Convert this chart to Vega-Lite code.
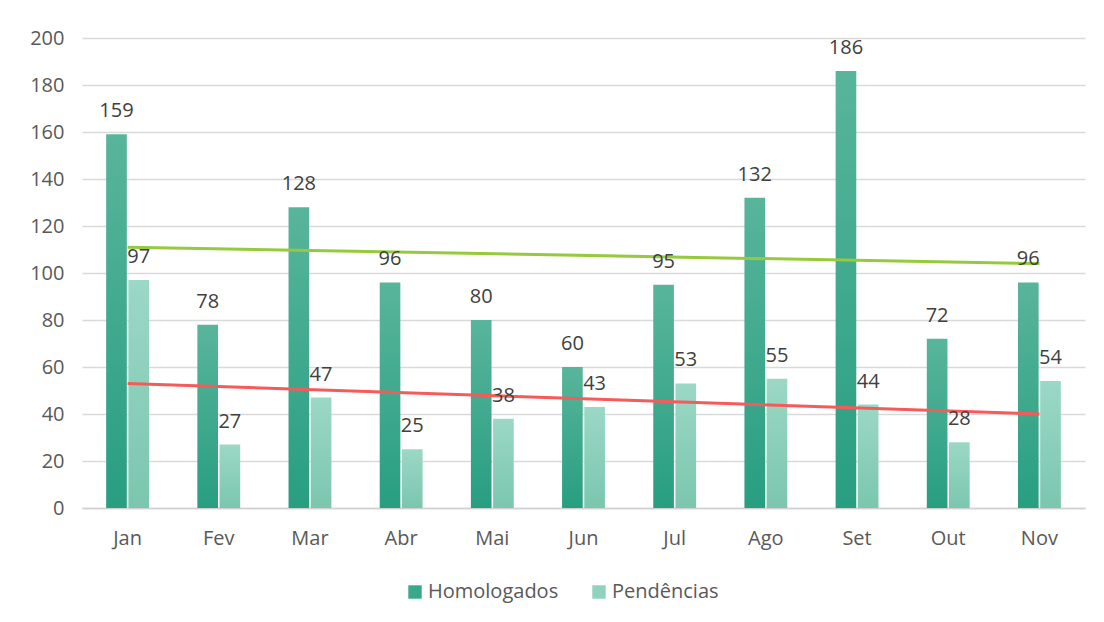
{
  "$schema": "https://vega.github.io/schema/vega-lite/v6.json",
  "width": 1003,
  "height": 470,
  "autosize": {"type": "none"},
  "padding": {"left": 82, "top": 38, "right": 19, "bottom": 114},
  "background": "#ffffff",
  "datasets": {
    "bars": [
      {"month": "Jan", "series": "Homologados", "value": 159},
      {"month": "Fev", "series": "Homologados", "value": 78},
      {"month": "Mar", "series": "Homologados", "value": 128},
      {"month": "Abr", "series": "Homologados", "value": 96},
      {"month": "Mai", "series": "Homologados", "value": 80},
      {"month": "Jun", "series": "Homologados", "value": 60},
      {"month": "Jul", "series": "Homologados", "value": 95},
      {"month": "Ago", "series": "Homologados", "value": 132},
      {"month": "Set", "series": "Homologados", "value": 186},
      {"month": "Out", "series": "Homologados", "value": 72},
      {"month": "Nov", "series": "Homologados", "value": 96},
      {"month": "Jan", "series": "Pendências", "value": 97},
      {"month": "Fev", "series": "Pendências", "value": 27},
      {"month": "Mar", "series": "Pendências", "value": 47},
      {"month": "Abr", "series": "Pendências", "value": 25},
      {"month": "Mai", "series": "Pendências", "value": 38},
      {"month": "Jun", "series": "Pendências", "value": 43},
      {"month": "Jul", "series": "Pendências", "value": 53},
      {"month": "Ago", "series": "Pendências", "value": 55},
      {"month": "Set", "series": "Pendências", "value": 44},
      {"month": "Out", "series": "Pendências", "value": 28},
      {"month": "Nov", "series": "Pendências", "value": 54}
    ],
    "trend": [
      {"month": "Jan", "series": "Homologados", "value": 111},
      {"month": "Nov", "series": "Homologados", "value": 104},
      {"month": "Jan", "series": "Pendências", "value": 53},
      {"month": "Nov", "series": "Pendências", "value": 40}
    ]
  },
  "encoding": {
    "x": {
      "field": "month",
      "type": "nominal",
      "sort": ["Jan", "Fev", "Mar", "Abr", "Mai", "Jun", "Jul", "Ago", "Set", "Out", "Nov"],
      "scale": {"paddingInner": 0.53, "paddingOuter": 0.265},
      "axis": {
        "title": null,
        "labelAngle": 0,
        "labelFontSize": 20,
        "labelColor": "#595959",
        "labelFont": "Open Sans",
        "labelPadding": 20,
        "ticks": false,
        "domain": true,
        "domainColor": "#d0d0d0",
        "domainWidth": 1.5,
        "grid": false
      }
    },
    "y": {
      "field": "value",
      "type": "quantitative",
      "scale": {"domain": [0, 200], "nice": false},
      "axis": {
        "title": null,
        "values": [0, 20, 40, 60, 80, 100, 120, 140, 160, 180, 200],
        "labelFontSize": 20,
        "labelColor": "#595959",
        "labelFont": "Open Sans",
        "labelPadding": 18,
        "ticks": false,
        "domain": false,
        "grid": true,
        "gridColor": "#d9d9d9",
        "gridWidth": 1.5
      }
    }
  },
  "layer": [
    {
      "data": {"name": "bars"},
      "transform": [{"filter": "datum.series == 'Homologados'"}],
      "mark": {
        "type": "bar",
        "fill": {
          "gradient": "linear", "x1": 0, "y1": 0, "x2": 0, "y2": 1,
          "stops": [{"offset": 0, "color": "#58b59b"}, {"offset": 1, "color": "#289e81"}]
        }
      },
      "encoding": {
        "xOffset": {"field": "series", "type": "nominal", "scale": {"domain": ["Homologados", "Pendências"], "paddingInner": 0.07, "paddingOuter": 0}}
      }
    },
    {
      "data": {"name": "bars"},
      "transform": [{"filter": "datum.series == 'Pendências'"}],
      "mark": {
        "type": "bar",
        "fill": {
          "gradient": "linear", "x1": 0, "y1": 0, "x2": 0, "y2": 1,
          "stops": [{"offset": 0, "color": "#9bd8c5"}, {"offset": 1, "color": "#7bc6ae"}]
        }
      },
      "encoding": {
        "xOffset": {"field": "series", "type": "nominal"}
      }
    },
    {
      "data": {"name": "bars"},
      "mark": {"type": "point", "shape": "square", "filled": true, "opacity": 0},
      "encoding": {
        "xOffset": {"field": "series", "type": "nominal"},
        "color": {
          "field": "series",
          "type": "nominal",
          "scale": {"domain": ["Homologados", "Pendências"], "range": ["#3aa98b", "#8fd2bd"]},
          "legend": {
            "title": null,
            "orient": "none",
            "direction": "horizontal",
            "legendX": 323,
            "legendY": 544,
            "symbolType": "square",
            "symbolSize": 180,
            "symbolOpacity": 1,
            "symbolStrokeWidth": 0,
            "labelFontSize": 20,
            "labelFont": "Open Sans",
            "labelColor": "#595959",
            "labelOffset": 3,
            "columnPadding": 30
          }
        }
      }
    },
    {
      "data": {"name": "trend"},
      "transform": [{"filter": "datum.series == 'Homologados'"}],
      "mark": {"type": "line", "stroke": "#96c93c", "strokeWidth": 3},
      "encoding": {}
    },
    {
      "data": {"name": "trend"},
      "transform": [{"filter": "datum.series == 'Pendências'"}],
      "mark": {"type": "line", "stroke": "#f65a5a", "strokeWidth": 3},
      "encoding": {}
    },
    {
      "data": {"name": "bars"},
      "mark": {"type": "text", "baseline": "alphabetic", "dy": -17, "fontSize": 20, "font": "Open Sans", "color": "#404040"},
      "encoding": {
        "xOffset": {"field": "series", "type": "nominal"},
        "text": {"field": "value", "type": "quantitative"}
      }
    }
  ],
  "config": {
    "view": {"stroke": null}
  }
}
